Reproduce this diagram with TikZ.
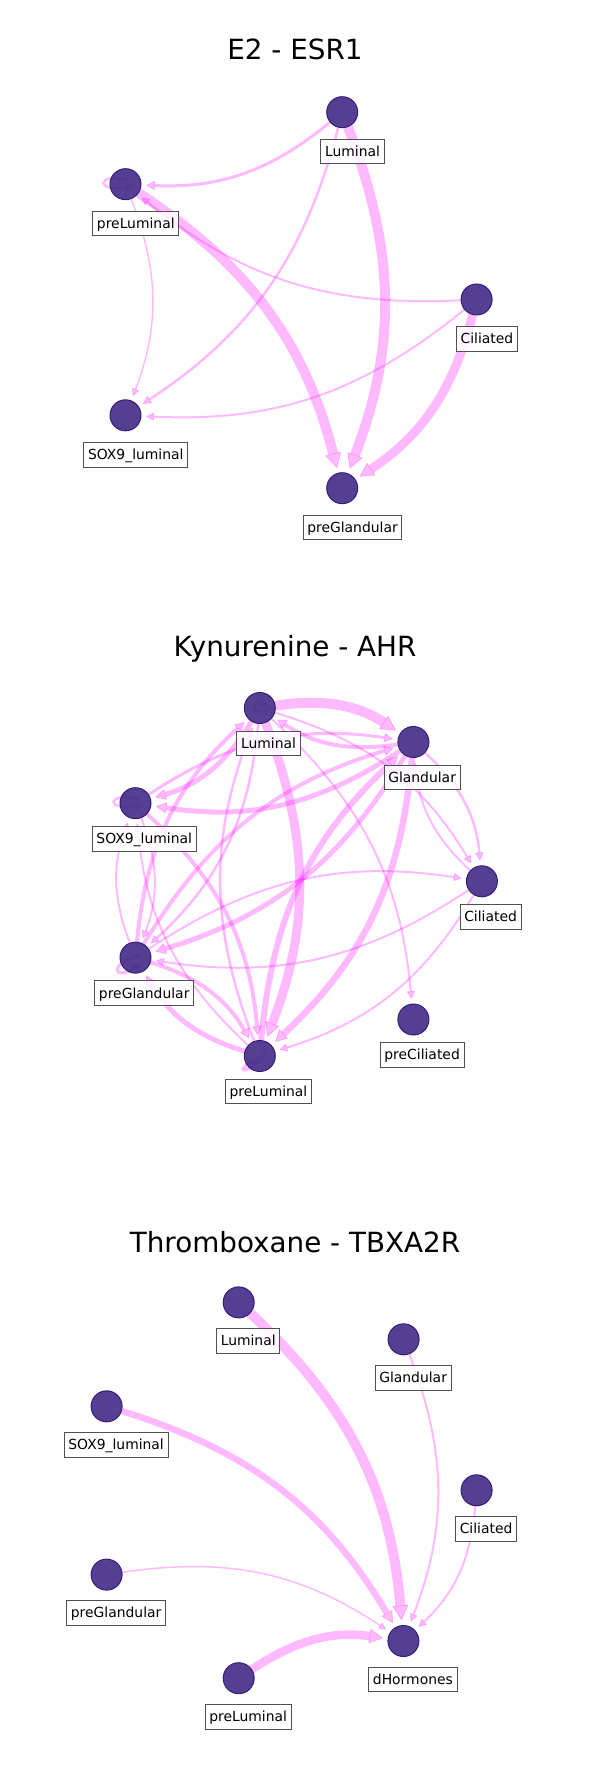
\documentclass[tikz,border=0pt]{standalone}
\usepackage{fontspec}
\setmainfont{DejaVu Sans}
\usetikzlibrary{arrows.meta,calc}
\definecolor{nodefill}{HTML}{422A87}
\definecolor{nodeedge}{HTML}{3A1C78}
\definecolor{edgecol}{HTML}{FF00FF}
\definecolor{boxedge}{HTML}{505050}
\pgfdeclarelayer{edges}
\pgfsetlayers{edges,main}
\tikzset{
  cell/.style={circle, minimum size=31pt, inner sep=0pt, fill=nodefill, fill opacity=0.9, draw=nodeedge, line width=1pt},
  lab/.style={draw=boxedge, line width=1pt, fill=white, fill opacity=0.85, text opacity=1, inner xsep=4.2pt, inner ysep=4.2pt, text height=12.9pt, text depth=3.28pt, font=\fontsize{13.9pt}{16pt}\selectfont},
  ttl/.style={anchor=base, font=\fontsize{27.8pt}{33pt}\selectfont},
  tip/.style={-{Triangle[length=6pt 0.9, width=6pt 1, line width=0.6pt, round]}},
  e/.style={draw=edgecol, opacity=0.27, line width=#1, bend left=21, shorten >=5pt, tip},
  lp/.style={draw=edgecol, opacity=0.27, line width=#1, tip},
}
\begin{document}
\begin{tikzpicture}[x=1pt,y=-1pt]
\useasboundingbox (0,0) rectangle (590,1790);
% ---------------- Panel 1 ----------------
\node[ttl] (t1) at (295,59.3) {E2 - ESR1};
\node[cell] (L1) at (342.2,112.2) {};
\node[cell] (pL1) at (125.5,184.2) {};
\node[cell] (C1) at (476.6,299.5) {};
\node[cell] (S1) at (125.5,415.3) {};
\node[cell] (pG1) at (342.2,488.2) {};
\node[lab] (L1t) at ($(L1)+(10.3,39.5)$) {Luminal};
\node[lab] (pL1t) at ($(pL1)+(10.3,39.5)$) {preLuminal};
\node[lab] (C1t) at ($(C1)+(10.3,39.5)$) {Ciliated};
\node[lab] (S1t) at ($(S1)+(10.3,39.5)$) {SOX9\_luminal};
\node[lab] (pG1t) at ($(pG1)+(10.3,39.5)$) {preGlandular};
\begin{pgfonlayer}{edges}
\draw[e=3pt] (L1) to (pL1);
\draw[e=2.5pt] (L1) to (S1);
\draw[e=10pt] (L1) to (pG1);
\draw[e=10pt] (pL1) to (pG1);
\draw[e=1.5pt] (pL1) to (S1);
\draw[e=2pt] (C1) to (pL1);
\draw[e=2pt] (C1) to (S1);
\draw[e=9pt] (C1) to (pG1);
\draw[lp=2.5pt] ($(pL1)+(4,-4)$) .. controls ($(pL1)+(-30,-12)$) and ($(pL1)+(-30,8)$) .. ($(pL1)+(8,2)$);
\end{pgfonlayer}
% ---------------- Panel 2 ----------------
\node[ttl] (t2) at (295,656) {Kynurenine - AHR};
\node[cell] (L2) at (259.8,708) {};
\node[cell] (G2) at (413.4,742) {};
\node[cell] (S2) at (135.5,803.2) {};
\node[cell] (C2) at (481.9,881.3) {};
\node[cell] (pG2) at (135.5,957.6) {};
\node[cell] (pC2) at (413.4,1019.5) {};
\node[cell] (pL2) at (259.8,1056) {};
\node[lab] (L2t) at ($(L2)+(8.7,35.6)$) {Luminal};
\node[lab] (G2t) at ($(G2)+(8.7,35.6)$) {Glandular};
\node[lab] (S2t) at ($(S2)+(8.7,35.6)$) {SOX9\_luminal};
\node[lab] (C2t) at ($(C2)+(8.7,35.6)$) {Ciliated};
\node[lab] (pG2t) at ($(pG2)+(8.7,35.6)$) {preGlandular};
\node[lab] (pC2t) at ($(pC2)+(8.7,35.6)$) {preCiliated};
\node[lab] (pL2t) at ($(pL2)+(8.7,35.6)$) {preLuminal};
\begin{pgfonlayer}{edges}
\draw[e=10pt] (L2) to (G2);
\draw[e=4pt] (G2) to (L2);
\draw[e=5pt] (L2) to (S2);
\draw[e=5pt] (G2) to (S2);
\draw[e=3pt] (S2) to (G2);
\draw[e=2.5pt] (L2) to (pG2);
\draw[e=5pt] (G2) to (pG2);
\draw[e=4pt] (pG2) to (G2);
\draw[e=9pt] (L2) to (pL2);
\draw[e=6.5pt] (G2) to (pL2);
\draw[e=6pt] (pL2) to (G2);
\draw[e=2pt] (L2) to (pC2);
\draw[e=2.5pt] (G2) to (C2);
\draw[e=2pt] (L2) to (C2);
\draw[e=2pt] (S2) to (pG2);
\draw[e=2pt] (pG2) to (S2);
\draw[e=4pt] (S2) to (pL2);
\draw[e=2pt] (pL2) to (S2);
\draw[e=4pt] (pG2) to (L2);
\draw[e=2.5pt] (pL2) to (L2);
\draw[e=4pt] (pG2) to (pL2);
\draw[e=5pt] (pL2) to (pG2);
\draw[e=2pt] (pG2) to (C2);
\draw[e=2pt] (C2) to (pG2);
\draw[e=2pt] (C2) to (pL2);
\draw[e=2pt] (C2) to (G2);
\draw[lp=2.5pt] ($(S2)+(4,-4)$) .. controls ($(S2)+(-30,-12)$) and ($(S2)+(-30,8)$) .. ($(S2)+(8,2)$);
\draw[lp=3pt] ($(pG2)+(4,-2)$) .. controls ($(pG2)+(-28,6)$) and ($(pG2)+(-22,24)$) .. ($(pG2)+(6,6)$);
\draw[lp=3pt] ($(pL2)+(6,-4)$) .. controls ($(pL2)+(-12,22)$) and ($(pL2)+(-26,14)$) .. ($(pL2)+(-2,4)$);
\draw[lp=2.5pt] ($(L2)+(6,4)$) .. controls ($(L2)+(-10,6)$) and ($(L2)+(-6,-10)$) .. ($(L2)+(8,-2)$);
\end{pgfonlayer}
% ---------------- Panel 3 ----------------
\node[ttl] (t3) at (295,1252.7) {Thromboxane - TBXA2R};
\node[cell] (L3) at (238.7,1302.4) {};
\node[cell] (G3) at (403.6,1339.3) {};
\node[cell] (S3) at (106.6,1406.3) {};
\node[cell] (C3) at (476.6,1490.3) {};
\node[cell] (pG3) at (106.6,1574.6) {};
\node[cell] (D3) at (403.4,1641) {};
\node[cell] (pL3) at (238.7,1678.2) {};
\node[lab] (L3t) at ($(L3)+(9.5,38.5)$) {Luminal};
\node[lab] (G3t) at ($(G3)+(9.5,38.5)$) {Glandular};
\node[lab] (S3t) at ($(S3)+(9.5,38.5)$) {SOX9\_luminal};
\node[lab] (C3t) at ($(C3)+(9.5,38.5)$) {Ciliated};
\node[lab] (pG3t) at ($(pG3)+(9.5,38.5)$) {preGlandular};
\node[lab] (D3t) at ($(D3)+(9.5,38.5)$) {dHormones};
\node[lab] (pL3t) at ($(pL3)+(9.5,38.5)$) {preLuminal};
\begin{pgfonlayer}{edges}
\draw[e=10pt] (L3) to (D3);
\draw[e=2pt] (G3) to (D3);
\draw[e=6.5pt] (S3) to (D3);
\draw[e=2pt] (C3) to (D3);
\draw[e=1.5pt] (pG3) to (D3);
\draw[e=8.5pt] (pL3) to (D3);
\end{pgfonlayer}
\end{tikzpicture}
\end{document}
